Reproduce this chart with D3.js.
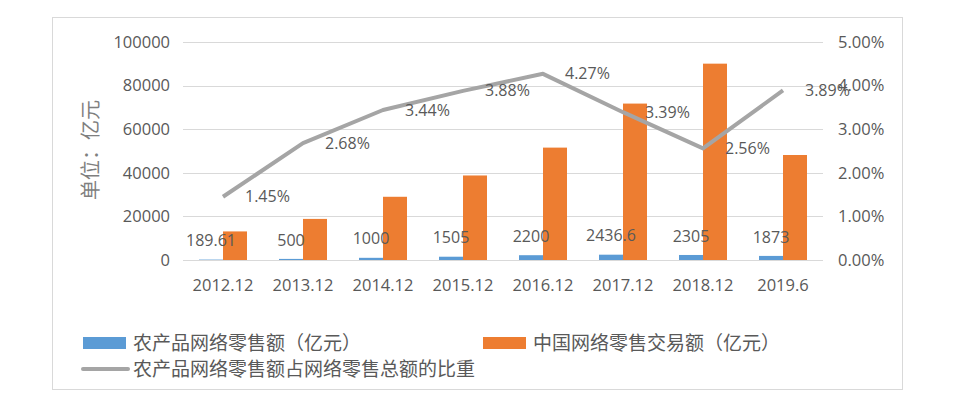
<!DOCTYPE html>
<html>
<head>
<meta charset="utf-8">
<script src="https://cdn.jsdelivr.net/npm/d3@7"></script>
<style>
  html, body { margin: 0; padding: 0; background: #fff; }
  .tick-label { font-family: "Open Sans", "Liberation Sans", sans-serif; font-size: 16.5px; fill: #595959; }
  .data-label { font-family: "Open Sans", "Liberation Sans", sans-serif; font-size: 16px; fill: #595959; }
  .legend-label { font-family: "Noto Sans CJK SC", sans-serif; font-size: 19px; fill: #595959; }
  .axis-title { font-family: "Noto Sans CJK SC", sans-serif; font-size: 20px; fill: #7f7f7f; }
</style>
</head>
<body>
<div id="chart"></div>
<script>
// data
const categories = ["2012.12", "2013.12", "2014.12", "2015.12", "2016.12", "2017.12", "2018.12", "2019.6"];
const agriSales = [189.61, 500, 1000, 1505, 2200, 2436.6, 2305, 1873];
const totalSales = [13110, 18851, 29000, 38773, 51556, 71751, 90065, 48161];
const shareLabels = ["1.45%", "2.68%", "3.44%", "3.88%", "4.27%", "3.39%", "2.56%", "3.89%"];
const share = [1.45, 2.68, 3.44, 3.88, 4.27, 3.39, 2.56, 3.89];
const leftTicks = [0, 20000, 40000, 60000, 80000, 100000];
const rightTicks = [0, 1, 2, 3, 4, 5];

const seriesNames = ["农产品网络零售额（亿元）", "中国网络零售交易额（亿元）", "农产品网络零售额占网络零售总额的比重"];
const yTitle = "单位：亿元";

const colors = { blue: "#5b9bd5", orange: "#ed7d31", gray: "#a5a5a5", grid: "#d9d9d9" };

const width = 958, height = 399;
const plot = { left: 183, right: 823, top: 42, bottom: 260 };

const svg = d3.select("#chart").append("svg")
  .attr("width", width)
  .attr("height", height);

// outer frame
svg.append("rect")
  .attr("x", 52.5).attr("y", 17.5)
  .attr("width", 850).attr("height", 372)
  .attr("fill", "none")
  .attr("stroke", colors.grid);

const x = d3.scaleBand().domain(categories).range([plot.left, plot.right]);
const yL = d3.scaleLinear().domain([0, 100000]).range([plot.bottom, plot.top]);
const yR = d3.scaleLinear().domain([0, 5]).range([plot.bottom, plot.top]);
const barW = x.bandwidth() * 0.3;
const cx = c => x(c) + x.bandwidth() / 2;

// gridlines
svg.append("g")
  .selectAll("line")
  .data(leftTicks)
  .enter().append("line")
  .attr("x1", plot.left).attr("x2", plot.right)
  .attr("y1", d => Math.round(yL(d)) + 0.5)
  .attr("y2", d => Math.round(yL(d)) + 0.5)
  .attr("stroke", colors.grid)
  .attr("stroke-width", 1);

// left axis labels
svg.append("g")
  .selectAll("text")
  .data(leftTicks)
  .enter().append("text")
  .attr("class", "tick-label")
  .attr("x", plot.left - 13)
  .attr("y", d => yL(d))
  .attr("dy", "0.35em")
  .attr("text-anchor", "end")
  .text(d => d);

// right axis labels
svg.append("g")
  .selectAll("text")
  .data(rightTicks)
  .enter().append("text")
  .attr("class", "tick-label")
  .attr("x", plot.right + 15)
  .attr("y", d => yR(d))
  .attr("dy", "0.35em")
  .text(d => d3.format(".2f")(d) + "%");

// category labels
svg.append("g")
  .selectAll("text")
  .data(categories)
  .enter().append("text")
  .attr("class", "tick-label")
  .attr("x", d => cx(d))
  .attr("y", 285)
  .attr("dy", "0.35em")
  .attr("text-anchor", "middle")
  .text(d => d);

// y title
svg.append("text")
  .attr("class", "axis-title")
  .attr("transform", "translate(91,150) rotate(-90)")
  .attr("text-anchor", "middle")
  .attr("dy", "0.35em")
  .text(yTitle);

// bars
svg.append("g")
  .selectAll("rect")
  .data(categories)
  .enter().append("rect")
  .attr("x", (d) => cx(d) - barW)
  .attr("y", (d, i) => yL(agriSales[i]))
  .attr("width", barW)
  .attr("height", (d, i) => yL(0) - yL(agriSales[i]))
  .attr("fill", colors.blue);

svg.append("g")
  .selectAll("rect")
  .data(categories)
  .enter().append("rect")
  .attr("x", d => cx(d))
  .attr("y", (d, i) => yL(totalSales[i]))
  .attr("width", barW)
  .attr("height", (d, i) => yL(0) - yL(totalSales[i]))
  .attr("fill", colors.orange);

// share line
const line = d3.line()
  .x((d, i) => cx(categories[i]))
  .y(d => yR(d));

svg.append("path")
  .datum(share)
  .attr("d", line)
  .attr("fill", "none")
  .attr("stroke", colors.gray)
  .attr("stroke-width", 4)
  .attr("stroke-linejoin", "round");

// blue bar labels
svg.append("g")
  .selectAll("text")
  .data(categories)
  .enter().append("text")
  .attr("class", "data-label")
  .attr("x", d => cx(d) - barW / 2)
  .attr("y", (d, i) => yL(agriSales[i]) - 19)
  .attr("dy", "0.35em")
  .attr("text-anchor", "middle")
  .text((d, i) => agriSales[i]);

// line labels
svg.append("g")
  .selectAll("text")
  .data(categories)
  .enter().append("text")
  .attr("class", "data-label")
  .attr("x", d => cx(d) + 22)
  .attr("y", (d, i) => yR(share[i]))
  .attr("dy", "0.35em")
  .text((d, i) => shareLabels[i]);

// legend
const legend = svg.append("g");
const legendItems = [
  { name: seriesNames[0], type: "rect", color: colors.blue, x: 83, y: 343 },
  { name: seriesNames[1], type: "rect", color: colors.orange, x: 483, y: 343 },
  { name: seriesNames[2], type: "line", color: colors.gray, x: 83, y: 369 }
];
legendItems.forEach(item => {
  if (item.type === "rect") {
    legend.append("rect")
      .attr("x", item.x).attr("y", item.y - 6)
      .attr("width", 43).attr("height", 12)
      .attr("fill", item.color);
  } else {
    legend.append("line")
      .attr("x1", item.x).attr("x2", item.x + 45)
      .attr("y1", item.y).attr("y2", item.y)
      .attr("stroke", item.color)
      .attr("stroke-width", 4)
      .attr("stroke-linecap", "round");
  }
  legend.append("text")
    .attr("class", "legend-label")
    .attr("x", item.x + 50)
    .attr("y", item.y)
    .attr("dy", "0.35em")
    .text(item.name);
});
</script>
</body>
</html>
